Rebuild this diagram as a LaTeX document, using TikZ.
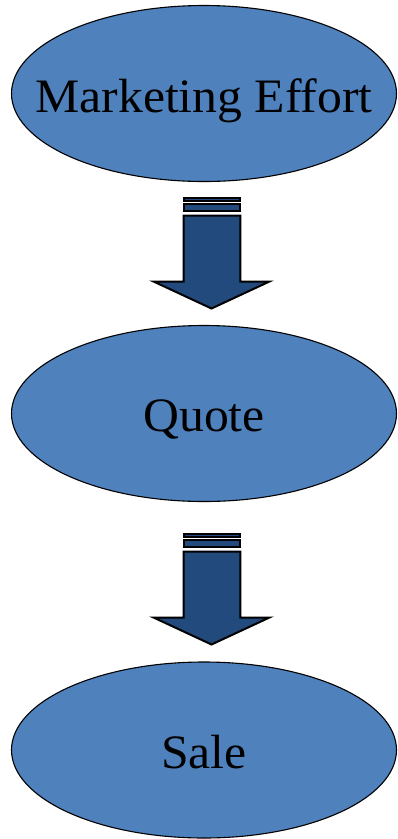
\documentclass[tikz,border=0pt]{standalone}
\usepackage{fontspec}
\setmainfont{Liberation Serif}
\usetikzlibrary{shapes.geometric}
\definecolor{ellblue}{HTML}{4F81BD}
\definecolor{arrblue}{HTML}{224A7C}
\newcommand{\ovaltext}[1]{\scalebox{1.035}[1]{#1}}
\begin{document}
\begin{tikzpicture}[x=1pt,y=-1pt,
  oval/.style={ellipse,draw=black,line width=1.1pt,fill=ellblue,minimum width=385pt,minimum height=176pt,inner sep=0pt},
  ovallabel/.style={anchor=base,inner sep=0pt,font=\fontsize{48}{50}\selectfont},
  blockarrow/.style={draw=black,line width=2pt,fill=arrblue,line join=miter}]
\useasboundingbox (0,0) rectangle (397,839);
\node[oval] (me) at (204,93.5) {};
\node[oval] (q) at (204,413.5) {};
\node[oval] (s) at (204,750) {};
\node[ovallabel] (tme) at ([yshift=-18.5pt]me.center) {\ovaltext{Marketing Effort}};
\node[ovallabel] (tq) at ([yshift=-18pt]q.center) {\ovaltext{Quote}};
\node[ovallabel] (ts) at ([yshift=-18pt]s.center) {\ovaltext{Sale}};
\foreach \o/\n in {0/a1,336/a2}{
  \begin{scope}[yshift=-\o pt]
    \coordinate (\n) at (212,197);
    \draw[blockarrow] (183.7,197.7) rectangle (240.3,200.8);
    \draw[blockarrow] (183.7,204.3) rectangle (240.3,211.1);
    \draw[blockarrow] (183.7,215.7) -- (240.3,215.7) -- (240.3,281.5) -- (269.5,281.5) -- (211.5,308.5) -- (153.5,281.5) -- (183.7,281.5) -- cycle;
  \end{scope}
}
\end{tikzpicture}
\end{document}
